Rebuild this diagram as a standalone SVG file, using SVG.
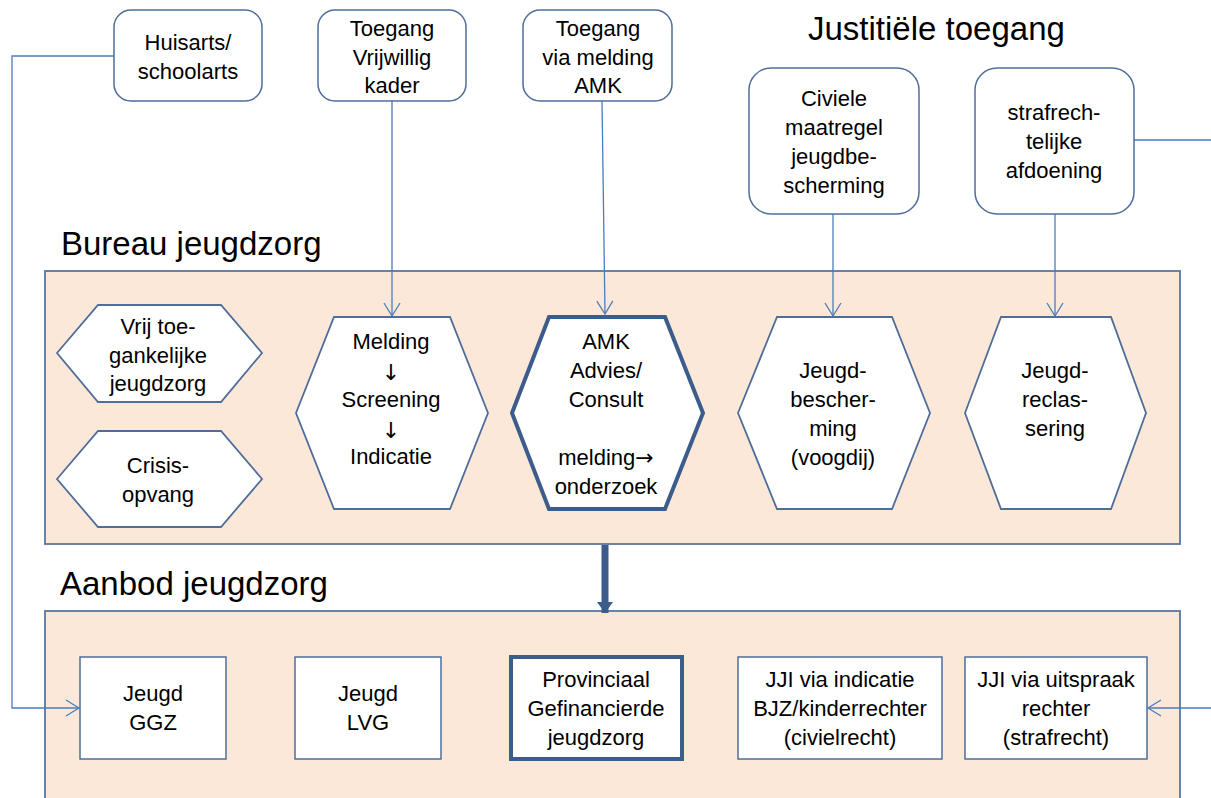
<svg xmlns="http://www.w3.org/2000/svg" width="1211" height="798" viewBox="0 0 1211 798">
<defs>
<marker id="open" markerUnits="userSpaceOnUse" markerWidth="16" markerHeight="18" viewBox="0 0 16 18" refX="14" refY="9" orient="auto">
<path d="M1,1 L14,9 L1,17" fill="none" stroke="#4A7EBB" stroke-width="1.3"/>
</marker>
<marker id="solid" markerUnits="userSpaceOnUse" markerWidth="12" markerHeight="16" viewBox="0 0 12 16" refX="11" refY="8" orient="auto">
<path d="M0,0 L11,8 L0,16 Z" fill="#3C5D8C"/>
</marker>
</defs>
<style>
text{font-family:"Liberation Sans",Arial,sans-serif;font-size:22px;fill:#000;text-anchor:middle}
.title{font-size:33px;text-anchor:start}
.arr{font-family:"DejaVu Sans","Liberation Sans",sans-serif;font-size:22px;fill:#000}
.rbox{fill:#fff;stroke:#4F6D9A;stroke-width:1.5}
.hex{fill:#fff;stroke:#4F6D9A;stroke-width:1.8}
.hexb{fill:#fff;stroke:#3C5D8C;stroke-width:4}
.box{fill:#fff;stroke:#4F6D9A;stroke-width:1.5}
.boxb{fill:#fff;stroke:#3C5D8C;stroke-width:4}
.cont{fill:#FCE8D9;stroke:#5A76A0;stroke-width:1.8}
.conn{fill:none;stroke:#4A7EBB;stroke-width:1.3}
</style>
<rect width="1211" height="798" fill="#fff"/>

<g id="titles">
<text class="title" x="808" y="40">Justitiële toegang</text>
<text class="title" x="61" y="255">Bureau jeugdzorg</text>
<text class="title" x="60" y="595">Aanbod jeugdzorg</text>
</g>

<g id="bureau-container"><rect class="cont" x="45" y="271" width="1135" height="273"/></g>
<g id="aanbod-container"><rect class="cont" x="45" y="611" width="1135" height="200"/></g>

<g id="connectors">
<path class="conn" d="M114,56 H12 V708 H79" marker-end="url(#open)"/>
<path class="conn" d="M392,101 V316" marker-end="url(#open)"/>
<path class="conn" d="M602,101 L605,314" marker-end="url(#open)"/>
<path class="conn" d="M833,214 V316" marker-end="url(#open)"/>
<path class="conn" d="M1055,214 V316" marker-end="url(#open)"/>
<path class="conn" d="M1134,140 H1225 V708 H1148" marker-end="url(#open)"/>
<path d="M605,545 V613" fill="none" stroke="#3C5D8C" stroke-width="7" marker-end="url(#solid)"/>
</g>

<g id="huisarts"><rect class="rbox" x="114" y="10" width="148" height="91" rx="17"/>
<text x="188" y="50">Huisarts/</text><text x="188" y="79">schoolarts</text></g>

<g id="toegang-vrijwillig"><rect class="rbox" x="318" y="10" width="148" height="91" rx="17"/>
<text x="392" y="36">Toegang</text><text x="392" y="64.5">Vrijwillig</text><text x="392" y="93">kader</text></g>

<g id="toegang-amk"><rect class="rbox" x="523" y="10" width="149" height="91" rx="17"/>
<text x="598" y="36">Toegang</text><text x="598" y="64.5">via melding</text><text x="598" y="93">AMK</text></g>

<g id="civiele"><rect class="rbox" x="749" y="68" width="170" height="146" rx="22"/>
<text x="834" y="106">Civiele</text><text x="834" y="135">maatregel</text><text x="834" y="164">jeugdbe-</text><text x="834" y="193">scherming</text></g>

<g id="strafrecht"><rect class="rbox" x="975" y="68" width="159" height="146" rx="22"/>
<text x="1054" y="120">strafrech-</text><text x="1054" y="149">telijke</text><text x="1054" y="178">afdoening</text></g>

<g id="vrij"><polygon class="hex" points="57,353 98,305 221,305 262,353 221,402 98,402"/>
<text x="158" y="334">Vrij toe-</text><text x="158" y="362.5">gankelijke</text><text x="158" y="391">jeugdzorg</text></g>

<g id="crisis"><polygon class="hex" points="57,479 98,431 221,431 262,479 221,527 98,527"/>
<text x="158" y="473">Crisis-</text><text x="158" y="502">opvang</text></g>

<g id="melding"><polygon class="hex" points="296,413 334,317 450,317 488,413 450,509 334,509"/>
<text x="391" y="349">Melding</text><text class="arr" x="391" y="380">↓</text><text x="391" y="407">Screening</text><text class="arr" x="391" y="438">↓</text><text x="391" y="464">Indicatie</text></g>

<g id="amk"><polygon class="hexb" points="512,413 549,317 665,317 703,413 665,509 549,509"/>
<text x="606" y="349">AMK</text><text x="606" y="378">Advies/</text><text x="606" y="407">Consult</text><text x="606" y="465">melding<tspan class="arr">→</tspan></text><text x="606" y="494">onderzoek</text></g>

<g id="jeugdbescherming"><polygon class="hex" points="738,413 777,317 892,317 930,413 892,509 777,509"/>
<text x="833" y="378">Jeugd-</text><text x="833" y="407">bescher-</text><text x="833" y="436">ming</text><text x="833" y="465">(voogdij)</text></g>

<g id="jeugdreclassering"><polygon class="hex" points="965,413 1001,317 1111,317 1146,413 1111,509 1001,509"/>
<text x="1055" y="378">Jeugd-</text><text x="1055" y="407">reclas-</text><text x="1055" y="436">sering</text></g>

<g id="ggz"><rect class="box" x="80" y="657" width="146" height="102"/>
<text x="153" y="701">Jeugd</text><text x="153" y="730">GGZ</text></g>

<g id="lvg"><rect class="box" x="295" y="657" width="146" height="102"/>
<text x="368" y="701">Jeugd</text><text x="368" y="730">LVG</text></g>

<g id="provinciaal"><rect class="boxb" x="511" y="657" width="171" height="102"/>
<text x="596" y="687">Provinciaal</text><text x="596" y="716">Gefinancierde</text><text x="596" y="744.5">jeugdzorg</text></g>

<g id="jji-indicatie"><rect class="box" x="738" y="657" width="204" height="102"/>
<text x="840" y="687">JJI via indicatie</text><text x="840" y="716">BJZ/kinderrechter</text><text x="840" y="744.5">(civielrecht)</text></g>

<g id="jji-uitspraak"><rect class="box" x="965" y="657" width="182" height="102"/>
<text x="1056" y="687">JJI via uitspraak</text><text x="1056" y="716">rechter</text><text x="1056" y="744.5">(strafrecht)</text></g>
</svg>
